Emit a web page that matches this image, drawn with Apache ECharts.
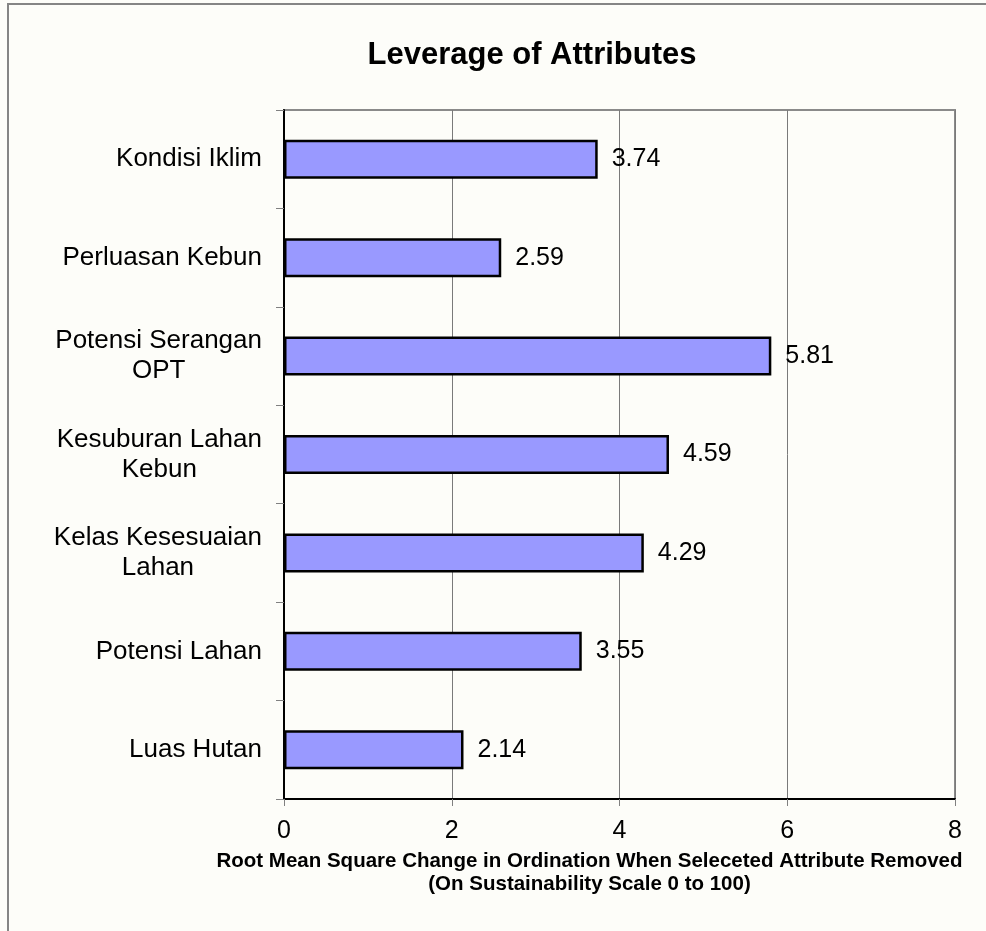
<!DOCTYPE html>
<html>
<head>
<meta charset="utf-8">
<title>Leverage of Attributes</title>
<script src="https://cdn.jsdelivr.net/npm/echarts@6/dist/echarts.min.js"></script>
<style>
  html, body { margin: 0; padding: 0; background: #fdfdf9; }
  #chart { width: 986px; height: 931px; }
</style>
</head>
<body>
<div id="chart"></div>
<script>
// Attributes, listed top to bottom
const attributes = [
  'Kondisi Iklim',
  'Perluasan Kebun',
  'Potensi Serangan\nOPT',
  'Kesuburan Lahan\nKebun',
  'Kelas Kesesuaian\nLahan',
  'Potensi Lahan',
  'Luas Hutan'
];
// RMS change in ordination when each attribute is removed
const rmsChange = [3.74, 2.59, 5.81, 4.59, 4.29, 3.55, 2.14];
// X axis scale
const xTicks = [0, 2, 4, 6, 8];

const FONT = '"Liberation Sans", Arial, Helvetica, sans-serif';

const chart = echarts.init(document.getElementById('chart'), null, { renderer: 'canvas' });

chart.setOption({
  backgroundColor: '#fdfdf9',
  animation: false,
  title: {
    text: 'Leverage of Attributes',
    left: 527,
    top: 35,
    textAlign: 'center',
    textStyle: { fontFamily: FONT, fontSize: 31, fontWeight: 'bold', color: '#000' }
  },
  graphic: [
    {
      type: 'rect',
      shape: { x: 8, y: 4, width: 1200, height: 1200 },
      style: { fill: 'none', stroke: '#858585', lineWidth: 2 },
      z: -1
    }
  ],
  grid: {
    left: 284, top: 110, width: 671, height: 689,
    outerBoundsMode: 'none',
    containLabel: false,
    show: true, borderColor: '#8a8a8a', borderWidth: 2, backgroundColor: 'transparent'
  },
  xAxis: {
    type: 'value',
    min: xTicks[0],
    max: xTicks[xTicks.length - 1],
    interval: xTicks[1] - xTicks[0],
    axisLine: { show: true, lineStyle: { color: '#000', width: 2 } },
    axisTick: { show: true, length: 7, lineStyle: { color: '#808080', width: 1 } },
    splitLine: { show: true, lineStyle: { color: '#7a7a7a', width: 1 } },
    axisLabel: { fontFamily: FONT, fontSize: 25, color: '#000', margin: 20 },
    name: 'Root Mean Square Change in Ordination When Seleceted Attribute Removed\n(On Sustainability Scale 0 to 100)',
    nameLocation: 'middle',
    nameGap: 51,
    nameTextStyle: { fontFamily: FONT, fontSize: 20.5, fontWeight: 'bold', color: '#000', lineHeight: 23, padding: [0, 60, 0, 0] }
  },
  yAxis: {
    type: 'category',
    data: attributes,
    inverse: true,
    axisLine: { show: true, onZero: false, lineStyle: { color: '#000', width: 2 } },
    axisTick: { show: true, length: 8, lineStyle: { color: '#808080', width: 1 } },
    splitLine: { show: false },
    axisLabel: {
      margin: 22,
      formatter: function (v) {
        return v.split('\n').map(function (s) { return '{c|' + s + '}'; }).join('\n');
      },
      rich: {
        c: { align: 'center', fontFamily: FONT, fontSize: 26, lineHeight: 30, color: '#000' }
      }
    }
  },
  series: [
    {
      type: 'bar',
      data: rmsChange,
      barWidth: 39,
      itemStyle: { color: '#9999ff', borderColor: '#000', borderWidth: 2.5 },
      label: {
        show: true,
        position: 'right',
        distance: 14,
        fontFamily: FONT,
        fontSize: 25,
        color: '#000',
        formatter: function (p) { return p.value.toFixed(2); }
      }
    }
  ]
});
</script>
</body>
</html>
